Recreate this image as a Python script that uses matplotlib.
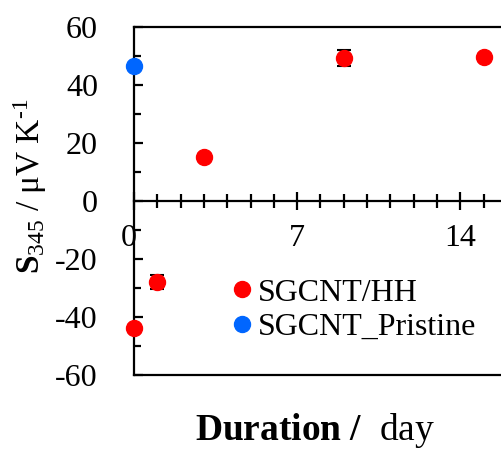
import matplotlib
matplotlib.use("Agg")
import matplotlib.pyplot as plt
import matplotlib.transforms as mtransforms
from matplotlib.lines import Line2D
from matplotlib.ticker import MultipleLocator

plt.rcParams['font.family'] = ['Liberation Serif', 'DejaVu Serif']
plt.rcParams['mathtext.fontset'] = 'custom'
plt.rcParams['mathtext.rm'] = 'Liberation Serif'
plt.rcParams['mathtext.bf'] = 'Liberation Serif:bold'
plt.rcParams['mathtext.it'] = 'Liberation Serif:italic'

# Seebeck coefficient vs. storage duration
hh_days = [0, 1, 3, 9, 15]
hh_seebeck = [-43.8, -27.8, 15.2, 49.3, 49.8]
hh_err = [1.0, 2.4, 1.0, 2.8, 1.0]

pristine_days = [0]
pristine_seebeck = [46.7]

x_ticks = [0, 7, 14]
y_ticks = [-60, -40, -20, 0, 20, 40, 60]

RED = '#FF0000'
BLUE = '#0066FF'

fig = plt.figure(figsize=(5.01, 4.51), dpi=100)
W, H = 501, 451
left_px, top_px, bottom_px = 134, 27, 375
px_per_day = 23.3
xmax = 16
ax = fig.add_axes([left_px / W, (H - bottom_px) / H,
                   xmax * px_per_day / W, (bottom_px - top_px) / H])

ax.errorbar(hh_days, hh_seebeck, yerr=hh_err, fmt='none', ecolor='black',
            elinewidth=1.2, capsize=5, capthick=1.5, zorder=2, clip_on=False)
ax.plot(hh_days, hh_seebeck, 'o', color=RED, markersize=11.5, zorder=3,
        clip_on=False, linestyle='none')
ax.plot(pristine_days, pristine_seebeck, 'o', color=BLUE, markersize=11.5,
        zorder=3, clip_on=False, linestyle='none')

ax.set_xlim(0, xmax)
ax.set_ylim(-60, 60)

lw = 1.6
for s in ax.spines.values():
    s.set_linewidth(lw)
ax.spines['right'].set_visible(False)
ax.spines['bottom'].set_position(('data', 0))
ax.axhline(-60, color='black', linewidth=lw, clip_on=False, zorder=1)

ax.set_xticks(x_ticks)
ax.set_xticklabels([str(v) for v in x_ticks])
ax.xaxis.set_minor_locator(MultipleLocator(1))
ax.set_yticks(y_ticks)
ax.set_yticklabels([str(v) for v in y_ticks])
ax.yaxis.set_minor_locator(MultipleLocator(10))

ax.tick_params(axis='x', which='major', direction='inout', length=13,
               width=lw, labelsize=23, pad=10)
ax.tick_params(axis='x', which='minor', direction='inout', length=9.5,
               width=lw)
ax.tick_params(axis='y', which='major', direction='in', length=6.5,
               width=lw, labelsize=23, pad=26)
ax.tick_params(axis='y', which='minor', direction='in', length=5,
               width=lw)

# nudge the "0" day label a little left of the y axis
zero_label = ax.get_xticklabels()[0]
zero_label.set_transform(zero_label.get_transform() +
                         mtransforms.ScaledTranslation(-5 / 100, 0,
                                                       fig.dpi_scale_trans))

fig.text(30 / W, 1 - 186 / H, r'$\mathbf{S}_{345}$ / μV K$^{\text{-1}}$',
         rotation=90, ha='center', va='center', fontsize=24)
fig.text(315 / W, 1 - 440 / H, r'$\mathbf{Duration\ /}$  day',
         ha='center', va='baseline', fontsize=27)

handles = [
    Line2D([], [], marker='o', color=RED, linestyle='none', markersize=11.5,
           label='SGCNT/HH'),
    Line2D([], [], marker='o', color=BLUE, linestyle='none', markersize=11.5,
           label='SGCNT_Pristine'),
]
fig.legend(handles=handles, loc='center left',
           bbox_to_anchor=(229 / W, 1 - 310 / H), frameon=False,
           fontsize=23, handlelength=0.8, handletextpad=0.1,
           labelspacing=0.15, borderpad=0, borderaxespad=0)

fig.savefig('out.png', dpi=100)
